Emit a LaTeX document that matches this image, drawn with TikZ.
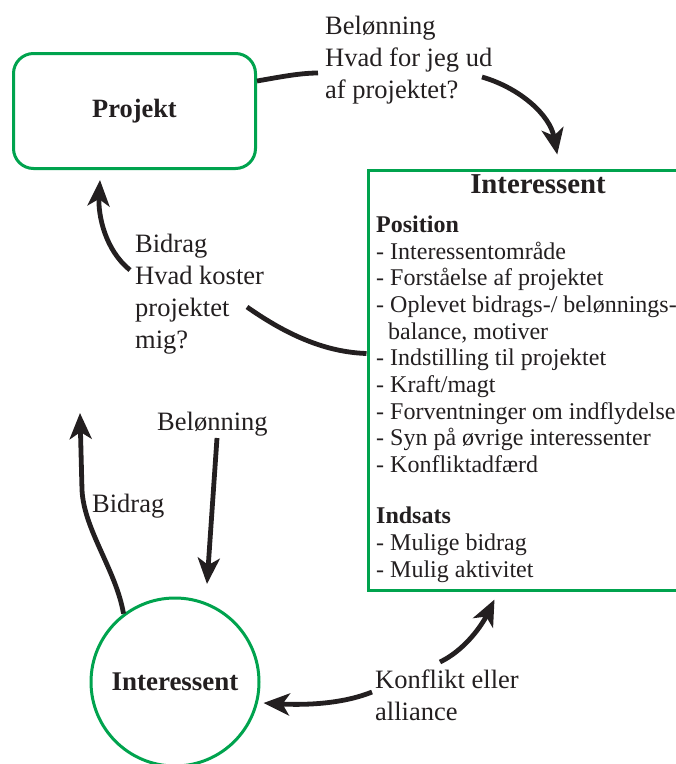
\documentclass[tikz,border=0pt]{standalone}
\usepackage{fontspec}
\setmainfont{Liberation Serif}
\usetikzlibrary{arrows.meta}
\definecolor{frame}{RGB}{0,163,78}
\definecolor{ink}{RGB}{35,31,32}
\begin{document}
\begin{tikzpicture}[x=1pt,y=-1pt,
  lbl/.style={font=\fontsize{26.5}{31.7}\selectfont, text=ink, align=left, inner sep=0pt},
  lnk/.style={draw=ink, line width=4.8pt},
  arr/.style={lnk, -{Stealth[length=26pt,width=22pt,inset=7pt]}},
  greenbox/.style={draw=frame, line width=3pt}]
\clip (0,0) rectangle (676,764);

% the project box
\node[greenbox, rounded corners=20pt, minimum width=242pt, minimum height=115pt,
      font=\bfseries\fontsize{26.4}{30}\selectfont, text=ink] (proj) at (134.5,111) {Projekt};

% the stakeholder description box
\node[greenbox, minimum width=344.5pt, minimum height=420pt, anchor=north west, inner sep=0pt]
      (ibox) at (366.5,168.5) {};
\node[font=\bfseries\fontsize{28.8}{30}\selectfont, text=ink, anchor=base, inner sep=0pt]
      (ititle) at (538,193) {Interessent};
% multi-line nodes are placed by the baseline of their last line
\node[font=\fontsize{24}{26.7}\selectfont, text=ink, align=left, anchor=base west, inner sep=0pt]
      (ilist) at (376,577) {\textbf{Position}\\
      - Interessentområde\\
      - Forståelse af projektet\\
      - Oplevet bidrags-/ belønnings-\\
      \hspace*{12pt}balance, motiver\\
      - Indstilling til projektet\\
      - Kraft/magt\\
      - Forventninger om indflydelse\\
      - Syn på øvrige interessenter\\
      - Konfliktadfærd\\[24.3pt]
      \textbf{Indsats}\\
      - Mulige bidrag\\
      - Mulig aktivitet};

% the stakeholder circle
\node[greenbox, circle, minimum size=168pt, inner sep=0pt,
      font=\bfseries\fontsize{27}{30}\selectfont, text=ink] (circ) at (175,682) {Interessent};

% labels
\node[lbl, anchor=base west] (toplbl) at (325,98) {Belønning\\Hvad for jeg ud\\af projektet?};
\node[lbl, anchor=base west] (leftlbl) at (135,348) {Bidrag\\Hvad koster\\projektet\\mig?};
\node[lbl, anchor=base west] (rewlbl) at (157,430) {Belønning};
\node[lbl, anchor=base west] (contlbl) at (92,512) {Bidrag};
\node[lbl, anchor=base west] (conflbl) at (375,720) {Konflikt eller\\alliance};

% free ends of the connectors
\coordinate (a1) at (318,73);
\coordinate (a2) at (482,77);
\coordinate (a4) at (130,270);
\coordinate (a5) at (247,307);
\coordinate (a7) at (80,413);
\coordinate (a8) at (217,438);
\coordinate (a9) at (207,584);
\coordinate (a10) at (372,692);
\coordinate (a11) at (440,662);

% reward: project -> stakeholder
\draw[lnk] ([yshift=30pt]proj.east) .. controls (280,77) and (300,73) .. (a1);
\draw[arr] (a2) .. controls (520,88) and (550,115) .. ([shift={(17,-14)}]ibox.north);

% contribution: stakeholder -> project
\draw[arr] (a4) .. controls (105,250) and (98,215) .. ([shift={(-34.5,10)}]proj.south);
\draw[lnk] (a5) .. controls (280,330) and (320,352) .. ([shift={(0,-26.5)}]ibox.west);

% contribution and reward of the single stakeholder
\draw[arr] (circ.127) .. controls (116,570) and (84,530) .. (82,490) -- (a7);
\draw[arr] (a8) -- (a9);

% conflict or alliance
\draw[arr] (a10) .. controls (340,705) and (300,705) .. ([shift={(3,21)}]circ.east);
\draw[arr] (a11) .. controls (465,650) and (482,625) .. ([shift={(-45.75,8)}]ibox.south);
\end{tikzpicture}
\end{document}
